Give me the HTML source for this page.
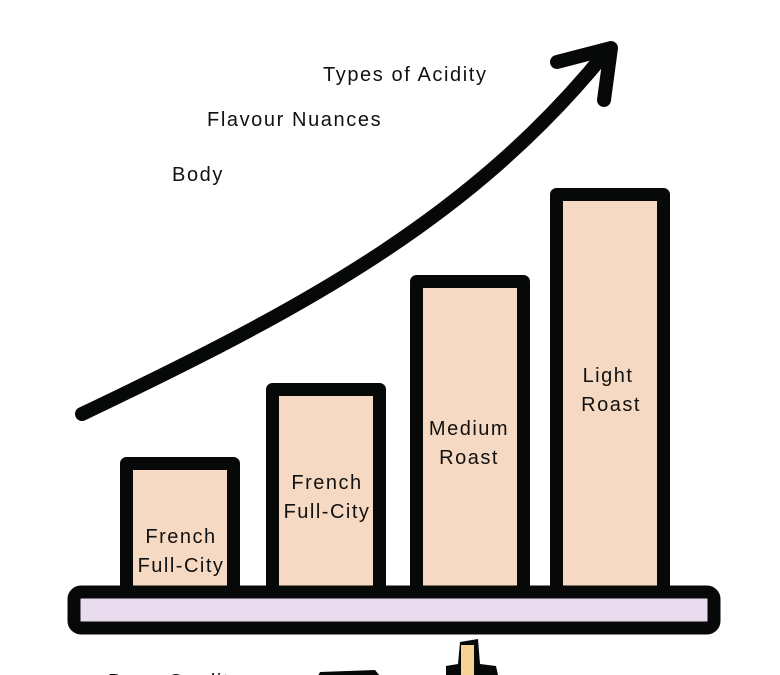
<!DOCTYPE html>
<html><head><style>
body{margin:0;background:#fff;}
svg{display:block;font-family:"Liberation Sans",sans-serif;}
</style></head><body>
<svg width="780" height="675" viewBox="0 0 780 675" xmlns="http://www.w3.org/2000/svg">
<g fill="#f6d9c2" stroke="#070908" stroke-width="13" stroke-linejoin="round">
<rect x="126.5" y="463.5" width="107" height="130"/>
<rect x="272.5" y="389.5" width="107" height="204"/>
<rect x="416.5" y="281.5" width="107" height="312"/>
<rect x="556.5" y="194.5" width="107" height="399"/>
</g>
<rect x="74" y="592" width="640" height="36" rx="7" fill="#e9dbee" stroke="#070908" stroke-width="13"/>
<path d="M82 414 C 300 310, 470 220, 606 52" fill="none" stroke="#070908" stroke-width="14" stroke-linecap="round"/>
<path d="M557 62 L611 48 L604 100" fill="none" stroke="#070908" stroke-width="14" stroke-linecap="round" stroke-linejoin="round"/>
<g font-size="20" fill="#111" text-anchor="middle" letter-spacing="1.5">
<text x="181" y="543">French</text><text x="181" y="572">Full-City</text>
<text x="327" y="489">French</text><text x="327" y="518">Full-City</text>
<text x="469" y="435">Medium</text><text x="469" y="464">Roast</text>
<text x="608" y="382">Light</text><text x="611" y="411">Roast</text>
</g>
<g font-size="20" fill="#111" letter-spacing="1.6">
<text x="323" y="81">Types of Acidity</text>
<text x="207" y="126">Flavour Nuances</text>
<text x="172" y="181">Body</text>
<text x="108" y="688">Bean Quality</text>
</g>
<path d="M318 676 L320 672 L375 670 L380 676 Z" fill="#070908"/>
<path d="M446 675 L446 666 L458 664 L460 642 L478 639 L480 664 L496 666 L498 675 Z" fill="#070908"/>
<rect x="461" y="645" width="13" height="30" fill="#f4d393"/>
</svg>
</body></html>
